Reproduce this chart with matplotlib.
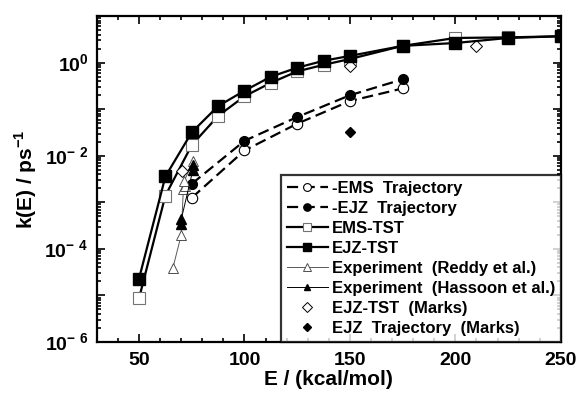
import numpy as np
import matplotlib
matplotlib.use("Agg")
import matplotlib.pyplot as plt
from matplotlib.ticker import LogLocator, FuncFormatter, MultipleLocator, NullFormatter

plt.rcParams['font.family'] = ['Liberation Sans', 'DejaVu Sans']
plt.rcParams['font.weight'] = 'bold'
plt.rcParams['mathtext.fontset'] = 'custom'
plt.rcParams['mathtext.rm'] = 'Liberation Sans:bold'
plt.rcParams['mathtext.bf'] = 'Liberation Sans:bold'

# TST curves
E_tst = [50, 62.5, 75, 87.5, 100, 112.5, 125, 137.5, 150, 175, 200, 225, 250]
k_ejz_tst = [2.3e-5, 3.6e-3, 0.032, 0.117, 0.25, 0.50, 0.78, 1.1, 1.4, 2.3, 2.65, 3.4, 3.7]
k_ems_tst = [8.7e-6, 1.4e-3, 0.017, 0.072, 0.19, 0.37, 0.65, 0.9, 1.2, 2.3, 3.4, 3.5, 3.7]

# trajectory results
E_traj = [75, 100, 125, 150, 175]
k_ems_traj = [1.25e-3, 0.013, 0.049, 0.15, 0.28]
k_ejz_traj = [2.5e-3, 0.021, 0.068, 0.20, 0.44]

# experiments
E_reddy = [66, 70, 71, 72, 71.5, 75.5]
k_reddy = [3.8e-5, 2.0e-4, 1.9e-3, 2.2e-3, 2.9e-3, 7.6e-3]
E_hassoon = [70, 70, 75.5, 75.5]
k_hassoon = [3.4e-4, 4.3e-4, 4.9e-3, 6.3e-3]

# Marks
E_marks_tst = [70.5, 150, 210]
k_marks_tst = [4.7e-3, 0.87, 2.3]
E_marks_traj = [150]
k_marks_traj = [0.032]

fig = plt.figure(figsize=(5.8, 3.94), dpi=100)
ax = fig.add_axes([0.167, 0.132, 0.800, 0.827])

dash = (5, 2.5)
ax.plot(E_traj, k_ems_traj, color='k', lw=1.6, dashes=dash, marker='o', ms=7.5,
        mfc='white', mec='k', mew=0.8, label='-EMS  Trajectory', zorder=3)
ax.plot(E_traj, k_ejz_traj, color='k', lw=1.6, dashes=dash, marker='o', ms=7,
        mfc='k', mec='k', label='-EJZ  Trajectory', zorder=3)
ax.plot(E_tst, k_ems_tst, color='k', lw=1.6, marker='s', ms=8.5,
        mfc='white', mec='0.45', mew=0.8, label='EMS-TST', zorder=3)
ax.plot(E_tst, k_ejz_tst, color='k', lw=1.6, marker='s', ms=8,
        mfc='k', mec='k', label='EJZ-TST', zorder=4)
ax.plot(E_reddy, k_reddy, color='0.35', lw=0.7, marker='^', ms=7.5,
        mfc='white', mec='0.3', mew=0.7, label='Experiment  (Reddy et al.)', zorder=3)
ax.plot(E_hassoon, k_hassoon, color='k', lw=0.7, marker='^', ms=6.5,
        mfc='k', mec='k', label='Experiment  (Hassoon et al.)', zorder=4)
ax.plot(E_marks_tst, k_marks_tst, ls='none', marker='D', ms=6.5,
        mfc='white', mec='k', mew=0.7, label='EJZ-TST  (Marks)', zorder=3)
ax.plot(E_marks_traj, k_marks_traj, ls='none', marker='D', ms=5,
        mfc='k', mec='k', label='EJZ  Trajectory  (Marks)', zorder=3)

ax.set_yscale('log')
ax.set_xlim(30, 250)
ax.set_ylim(1e-6, 1e1)

ax.xaxis.set_major_locator(MultipleLocator(50))
ax.xaxis.set_minor_locator(MultipleLocator(10))
ax.yaxis.set_major_locator(LogLocator(base=10, numticks=20))
ax.yaxis.set_minor_locator(LogLocator(base=10, subs=np.arange(2, 10), numticks=20))
ax.yaxis.set_minor_formatter(NullFormatter())


def ylab(v, pos):
    e = int(round(np.log10(v)))
    if e % 2 != 0 or e > 0:
        return ''
    if e == 0:
        return r'$10^{0}$'
    return r'$10^{-\ %d}$' % (-e)


ax.yaxis.set_major_formatter(FuncFormatter(ylab))
ax.tick_params(which='both', direction='in', top=True, right=True, width=1.2)
ax.tick_params(which='major', length=6)
ax.tick_params(which='minor', length=3)
ax.tick_params(axis='x', labelsize=14, pad=7)
ax.tick_params(axis='y', labelsize=14, pad=6)
for lab in ax.get_xticklabels():
    lab.set_fontweight('bold')
for s in ax.spines.values():
    s.set_linewidth(1.6)

ax.set_xlabel('E / (kcal/mol)', fontsize=15, fontweight='bold', labelpad=1)
ax.set_ylabel(r'k(E) / ps$^{-1}$', fontsize=15, fontweight='bold', labelpad=4)

leg = ax.legend(loc='lower right', bbox_to_anchor=(1, 0), borderaxespad=0,
                fontsize=12, frameon=True, fancybox=False, edgecolor='k',
                handlelength=2.5, handletextpad=0.2, labelspacing=0.3,
                borderpad=0.35, markerscale=0.75)
leg.get_frame().set_linewidth(1.6)
for t in leg.get_texts():
    t.set_fontweight('bold')

fig.savefig('out.png', dpi=100)
